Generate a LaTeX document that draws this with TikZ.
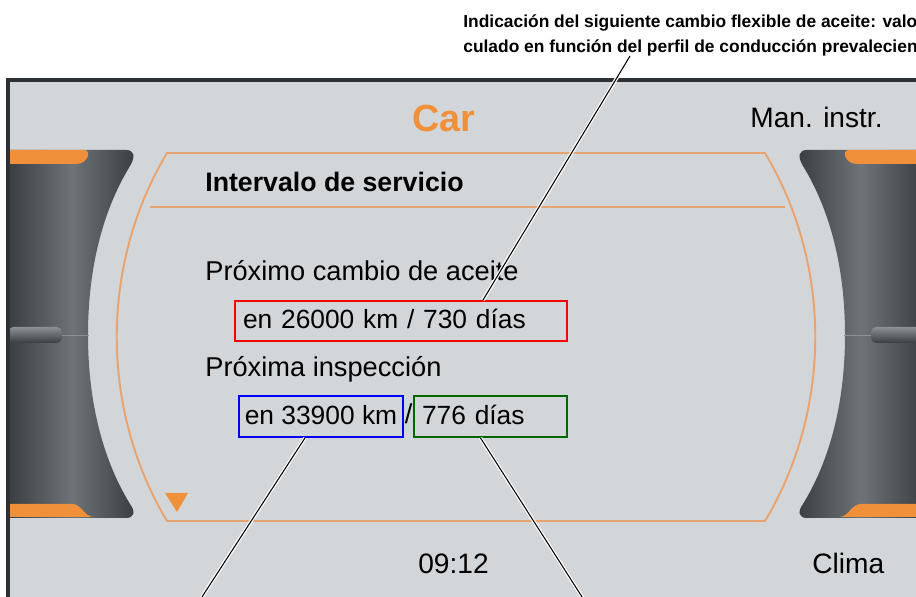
\documentclass[tikz,border=0pt]{standalone}
\usepackage{fontspec}
\setmainfont{Liberation Sans}
\usepackage{xcolor}
\usepackage{tikz}
\usetikzlibrary{calc}
\definecolor{screengray}{HTML}{D3D6D9}
\definecolor{bezeldark}{HTML}{2E3133}
\definecolor{vwamber}{HTML}{F0903A}
\definecolor{frameamber}{HTML}{E9A36E}
\definecolor{knobdark}{HTML}{3A3E41}
\definecolor{knoblight}{HTML}{6E7377}
\definecolor{sepgray}{HTML}{8C9094}
\definecolor{boxgreen}{HTML}{006600}
\tikzset{
    menu/.style={font=\fontsize{15.5}{18}\selectfont, inner sep=0pt, anchor=base west},
    softkey/.style={font=\fontsize{16}{19}\selectfont, inner sep=0pt, anchor=base west},
    valbox/.style={draw=#1, line width=1.1pt, inner ysep=0pt, align=left,
        text height=12pt, text depth=3pt, font=\fontsize{15}{18}\selectfont},
    leader/.style={line width=0.6pt, preaction={draw=white, line width=2pt}},
    knob/.style={left color=knobdark, right color=knobdark, middle color=knoblight}}
\newcommand{\drawknob}{%
  \shade[knob] (8,150) -- (126,150) .. controls (134,150) and (136,156) .. (130,166)
     .. controls (100,215) and (88,275) .. (88,335)
     .. controls (88,395) and (100,455) .. (130,504)
     .. controls (136,512) and (134,518) .. (126,518) -- (8,518) -- cycle;
  \fill[vwamber] (8,150) -- (84,150) .. controls (92,150) and (88,164) .. (76,164) -- (8,164) -- cycle;
  \fill[vwamber] (8,504) -- (72,504) .. controls (82,504) and (84,517) .. (94,517) -- (8,517) -- cycle;
  \shade[top color=sepgray, bottom color=knobdark, rounded corners=3pt] (8,327) rectangle (62,343);
  \draw[sepgray, line width=0.5pt] (62,335) -- (89,335);}

\begin{document}
\begin{tikzpicture}[x=0.02cm, y=-0.02cm]
\useasboundingbox (0,0) rectangle (916,597);
% screen
\fill[screengray] (8,80) rectangle (916,597);
\drawknob
\begin{scope}[shift={(933,0)}, xscale=-1]
\drawknob
\end{scope}
\draw[bezeldark, line width=1.8pt] (8,597) -- (8,80) -- (916,80);
% menu frame
\draw[frameamber, line width=1.1pt] (167,153) -- (765,153) .. controls (832,265) and (832,409) .. (765,521)
   -- (167,521) .. controls (100,409) and (100,265) .. (167,153) -- cycle;
\draw[frameamber, line width=1.1pt] (150,207) -- (785,207);
\fill[vwamber] (165,493) -- (188,493) -- (177,512) -- cycle;
% softkeys
\node[softkey, font=\bfseries\fontsize{21.5}{24}\selectfont, text=vwamber, anchor=base] (car) at (444,132) {Car};
\node[softkey] (manual) at (750,128) {Man. instr.};
\node[softkey] (clock) at (418,573) {09:12};
\node[softkey] (clima) at (812,573) {Clima};
% menu entries
\node[menu, font=\bfseries\fontsize{15.2}{18}\selectfont] (title) at (205,192) {Intervalo de servicio};
\node[menu] (oilhead) at (205,281) {Próximo cambio de aceite};
\node[valbox=red, text width=6.32cm, inner xsep=0.16cm, minimum height=0.8cm] (oilbox) at (401,321) {en 26000 km / 730 días};
\node[menu] (inshead) at (205,377) {Próxima inspección};
\node[valbox=blue, inner xsep=0pt, minimum width=3.28cm, minimum height=0.82cm] (kmbox) at (321,416.5) {en 33900 km};
\node[menu] (slash) at (404.5,424) {/};
\node[valbox=boxgreen, text width=2.74cm, inner xsep=0.16cm, minimum height=0.82cm] (daybox) at (490.5,416.5) {776 días};
% annotation
\node[font=\bfseries\fontsize{9.9}{14.3}\selectfont, align=left, anchor=north west, inner sep=0pt] (note) at (463,14)
   {Indicación del siguiente cambio flexible de aceite: valo\\culado en función del perfil de conducción prevalecien};
\coordinate (notefoot) at (630,56);
\coordinate (kmfoot) at (200,600);
\coordinate (dayfoot) at (584,600);
\draw[leader] ($(oilbox.north)+(82,0)$) -- (notefoot);
\draw[leader] ($(kmbox.south)+(-16,0)$) -- (kmfoot);
\draw[leader] ($(daybox.south)+(-10,0)$) -- (dayfoot);
\end{tikzpicture}
\end{document}
